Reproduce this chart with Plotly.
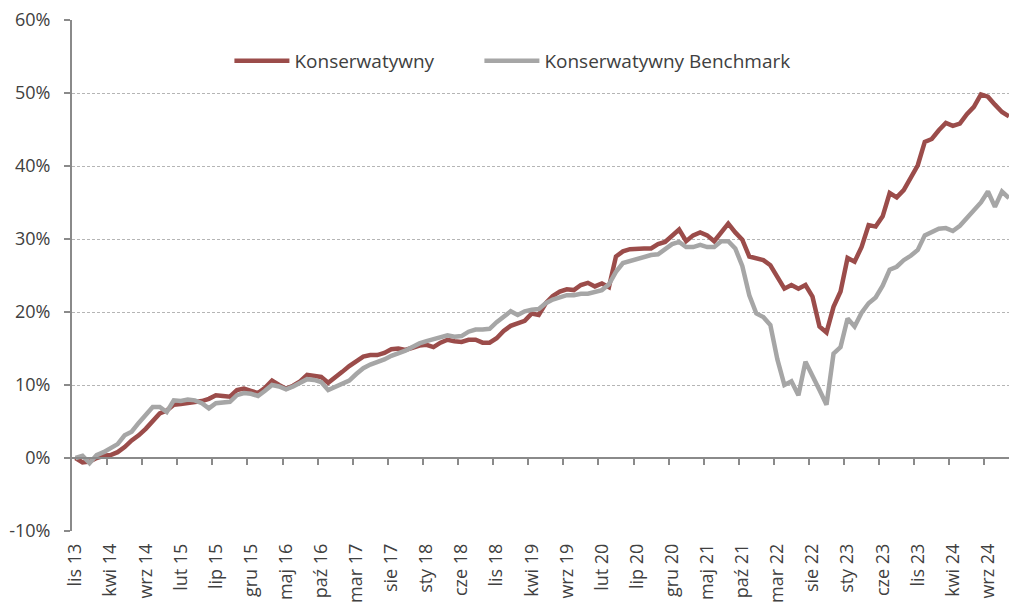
import plotly.graph_objects as go

konserwatywny = [
    0.0, -0.6, -0.5, 0.0, 0.3, 0.4, 0.8, 1.5, 2.4, 3.1,
    4.0, 5.1, 6.1, 6.5, 7.3, 7.4, 7.5, 7.7, 7.8, 8.1,
    8.6, 8.5, 8.4, 9.3, 9.5, 9.2, 8.9, 9.6, 10.6, 10.0,
    9.5, 9.9, 10.5, 11.4, 11.3, 11.1, 10.3, 11.0, 11.8, 12.6,
    13.3, 13.9, 14.1, 14.1, 14.4, 14.9, 15.0, 14.8, 15.1, 15.4,
    15.5, 15.2, 15.8, 16.2, 16.0, 15.9, 16.2, 16.2, 15.8, 15.8,
    16.4, 17.4, 18.1, 18.5, 18.8, 19.8, 19.6, 21.2, 22.2, 22.8,
    23.1, 23.0, 23.7, 24.0, 23.5, 23.9, 23.4, 27.6, 28.3, 28.6,
    28.7, 28.7, 28.7, 29.3, 29.6, 30.4, 31.3, 29.7, 30.5, 30.9,
    30.5, 29.7, 31.0, 32.1, 30.9, 29.9, 27.6, 27.4, 27.1, 26.4,
    24.8, 23.2, 23.7, 23.2, 23.7, 22.1, 18.0, 17.2, 20.7, 22.8,
    27.4, 26.9, 28.9, 31.9, 31.7, 33.1, 36.3, 35.7, 36.7, 38.5,
    40.1, 43.3, 43.7, 44.9, 45.9, 45.5, 45.8, 47.1, 48.1, 49.8,
    49.5, 48.4, 47.4, 46.8,
]

benchmark = [
    0.0, 0.3, -0.7, 0.4, 0.8, 1.3, 1.9, 3.1, 3.6, 4.8,
    5.8, 7.0, 7.0, 6.3, 7.9, 7.8, 8.0, 7.9, 7.5, 6.8,
    7.5, 7.6, 7.7, 8.6, 8.9, 8.8, 8.5, 9.2, 10.0, 9.8,
    9.4, 9.8, 10.3, 10.8, 10.7, 10.4, 9.3, 9.7, 10.1, 10.6,
    11.5, 12.3, 12.8, 13.1, 13.5, 14.0, 14.3, 14.7, 15.2, 15.7,
    16.0, 16.3, 16.6, 16.8, 16.6, 16.7, 17.3, 17.6, 17.6, 17.7,
    18.6, 19.4, 20.1, 19.6, 20.1, 20.3, 20.4, 21.2, 21.7, 22.0,
    22.3, 22.3, 22.5, 22.5, 22.8, 23.0, 23.8, 25.5, 26.7, 27.0,
    27.3, 27.6, 27.8, 27.9, 28.7, 29.3, 29.6, 28.9, 28.9, 29.2,
    28.9, 28.9, 29.7, 29.7, 28.7, 26.3, 22.3, 19.8, 19.3, 18.2,
    13.5, 10.0, 10.5, 8.6, 13.2, 11.4, 9.3, 7.3, 14.3, 15.2,
    19.1, 18.0, 19.9, 21.2, 22.0, 23.6, 25.8, 26.2, 27.1, 27.7,
    28.5, 30.5, 31.0, 31.4, 31.5, 31.1, 31.8, 32.8, 33.9, 35.0,
    36.5, 34.4, 36.5, 35.6,
]

tick_labels = [
    "lis 13", "kwi 14", "wrz 14", "lut 15", "lip 15", "gru 15", "maj 16",
    "paź 16", "mar 17", "sie 17", "sty 18", "cze 18", "lis 18", "kwi 19",
    "wrz 19", "lut 20", "lip 20", "gru 20", "maj 21", "paź 21", "mar 22",
    "sie 22", "sty 23", "cze 23", "lis 23", "kwi 24", "wrz 24",
]
label_step = 5
y_ticks = [-10, 0, 10, 20, 30, 40, 50, 60]

months = list(range(len(konserwatywny)))
label_pos = [i * label_step for i in range(len(tick_labels))]
tick_mark_pos = [p + label_step - 0.5 for p in label_pos[:-1]]

FONT = "Open Sans, Liberation Sans, Arial, sans-serif"
TXT = "#404040"
AX = "#8a8a8a"

fig = go.Figure()
fig.add_trace(go.Scatter(x=months, y=konserwatywny, mode="lines",
                         name="Konserwatywny", xaxis="x", yaxis="y",
                         legend="legend",
                         line=dict(color="#9b4c4a", width=4.5)))
fig.add_trace(go.Scatter(x=months, y=benchmark, mode="lines",
                         name="Konserwatywny Benchmark", xaxis="x2",
                         yaxis="y", legend="legend2",
                         line=dict(color="#a6a6a6", width=4.5)))

leg_common = dict(orientation="h", xanchor="left", y=0.92,
                  yanchor="middle", bgcolor="rgba(0,0,0,0)",
                  font=dict(family=FONT, size=19, color=TXT),
                  itemwidth=55)

xr = [-0.5, 133.0]
fig.update_layout(
    width=1009, height=608,
    margin=dict(l=72, r=0, t=20, b=77, autoexpand=False),
    paper_bgcolor="white", plot_bgcolor="white",
    font=dict(family=FONT, size=18, color=TXT),
    showlegend=True,
    legend=dict(x=0.168, **leg_common),
    legend2=dict(x=0.4348, **leg_common),
    xaxis=dict(range=xr, tickmode="array", tickvals=label_pos,
               ticktext=tick_labels, tickangle=-90, ticks="",
               showgrid=False, zeroline=False, showline=False,
               ticklabelstandoff=8, automargin=False,
               tickfont=dict(family=FONT, size=18, color=TXT)),
    xaxis2=dict(range=xr, overlaying="x", anchor="free",
                position=10 / 70, side="bottom",
                tickmode="array", tickvals=tick_mark_pos,
                showticklabels=False, ticks="outside", ticklen=6,
                tickwidth=2, tickcolor=AX, showline=True,
                linecolor=AX, linewidth=2, showgrid=False,
                zeroline=False, automargin=False),
    yaxis=dict(range=[-10, 60], tickmode="array", tickvals=y_ticks,
               ticktext=[f"{v}%" for v in y_ticks],
               showline=True, linecolor=AX, linewidth=2,
               ticks="outside", ticklen=6, tickwidth=2, tickcolor=AX,
               showgrid=True, gridcolor="#b5b5b5", gridwidth=1,
               griddash="3px,2px", zeroline=False,
               ticklabelstandoff=10, automargin=False,
               tickfont=dict(family=FONT, size=18, color=TXT)),
)

fig.write_html(
    "out.html",
    config={"displayModeBar": False},
    post_script="document.body.style.margin='0';"
                "document.body.style.overflow='hidden';",
)
